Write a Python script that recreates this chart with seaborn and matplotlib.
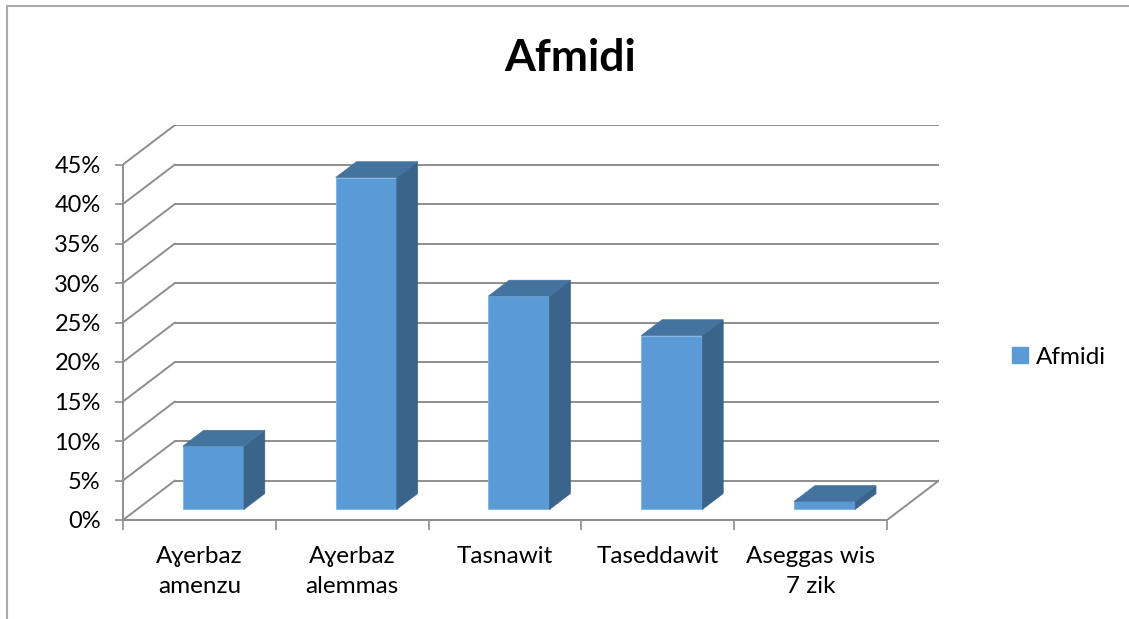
import numpy as np
import matplotlib
matplotlib.use("Agg")
import matplotlib.pyplot as plt
from matplotlib.patches import Polygon, Patch
from matplotlib.lines import Line2D
import seaborn as sns

# ======================================================
# Data
# ======================================================

categories = ["Aɣerbaz\namenzu", "Aɣerbaz\nalemmas", "Tasnawit", "Taseddawit", "Aseggas wis\n7 zik"]
values = [8, 42, 27, 22, 1]
yticks = [0, 5, 10, 15, 20, 25, 30, 35, 40, 45]
series_name = "Afmidi"

# ======================================================
# Style
# ======================================================

sns.set_style("white")
plt.rcParams["font.family"] = ["Lato", "DejaVu Sans"]
plt.rcParams["text.color"] = "black"

FRONT = "#5b9bd5"
TOP = "#44739f"
SIDE = "#3a6489"
GRID = "#8e8e8e"

# depth of the 3d box, in data units
DX = 0.34
DY = 5.0
# bar depth positions (fraction of the box depth)
D0 = 0.27
D1 = 0.67

fig = plt.figure(figsize=(11.29, 6.19), dpi=100)
ax = fig.add_axes([123 / 1129, 99 / 619, 816 / 1129, 395 / 619])

# ======================================================
# Walls and floor
# ======================================================

x_lo, x_hi = -0.5, len(categories) - 0.5

for v in yticks:
    # back wall
    ax.plot([x_lo + DX, x_hi + DX], [v + DY, v + DY], color=GRID, lw=1.4, zorder=1)
    # side wall
    ax.plot([x_lo, x_lo + DX], [v, v + DY], color=GRID, lw=1.4, zorder=1)

# floor front edge and right edge
ax.plot([x_lo, x_hi], [0, 0], color=GRID, lw=1.4, zorder=1, clip_on=False)
ax.plot([x_hi, x_hi + DX], [0, DY], color=GRID, lw=1.4, zorder=1)

# ======================================================
# Bars
# ======================================================

sns.barplot(
    x=categories,
    y=values,
    color=FRONT,
    saturation=1,
    width=0.4,
    errorbar=None,
    ax=ax,
    zorder=3
)

ddx = (D1 - D0) * DX
ddy = (D1 - D0) * DY

for p in ax.patches:
    fx = p.get_x() + D0 * DX
    fy = D0 * DY
    w = p.get_width()
    h = p.get_height()
    p.set_x(fx)
    p.set_y(fy)
    p.set_edgecolor("#7fb2e0")
    p.set_linewidth(0.6)
    top = Polygon(
        [(fx, fy + h), (fx + w, fy + h), (fx + w + ddx, fy + h + ddy), (fx + ddx, fy + h + ddy)],
        closed=True, facecolor=TOP, edgecolor=TOP, lw=0.5, zorder=3
    )
    side = Polygon(
        [(fx + w, fy), (fx + w + ddx, fy + ddy), (fx + w + ddx, fy + h + ddy), (fx + w, fy + h)],
        closed=True, facecolor=SIDE, edgecolor=SIDE, lw=0.5, zorder=3
    )
    ax.add_patch(side)
    ax.add_patch(top)

# ======================================================
# Axes
# ======================================================

ax.set_xlim(x_lo, x_hi + DX)
ax.set_ylim(0, 50)

for s in ["top", "right", "bottom"]:
    ax.spines[s].set_visible(False)
ax.spines["left"].set_color(GRID)
ax.spines["left"].set_linewidth(1.4)
ax.spines["left"].set_bounds(0, 45)

ax.set_yticks(yticks)
ax.set_yticklabels([f"{v}%" for v in yticks], fontsize=17, color="black")
ax.tick_params(axis="y", length=6, width=1.2, color=GRID, pad=10, left=True)

ax.set_xticks(range(len(categories)))
ax.set_xticklabels(categories, fontsize=17.5, color="black", linespacing=1.5)
ax.set_xticks(np.arange(x_lo, x_hi + 0.01, 1.0), minor=True)
ax.tick_params(axis="x", which="major", length=0, pad=19)
ax.tick_params(axis="x", which="minor", length=7, width=1.2, color=GRID, bottom=True)

ax.set_xlabel("")
ax.set_ylabel("")

# ======================================================
# Title, legend, border
# ======================================================

fig.text(570 / 1129, 1 - 71 / 619, "Afmidi", fontsize=32, fontweight="bold",
         ha="center", va="baseline", color="black")

fig.legend(
    handles=[Patch(facecolor=FRONT, edgecolor=FRONT)],
    labels=[series_name],
    loc="center left",
    bbox_to_anchor=(990 / 1129, 1 - 357 / 619),
    frameon=False,
    fontsize=17.5,
    labelcolor="black",
    handlelength=0.65,
    handleheight=0.65,
    handletextpad=0.35
)

fig.add_artist(Line2D([7 / 1129, 1], [1 - 6 / 619, 1 - 6 / 619], color="#aaaaaa", lw=1.5))
fig.add_artist(Line2D([7 / 1129, 7 / 1129], [0, 1 - 6 / 619], color="#aaaaaa", lw=1.5))

plt.savefig("out.png", dpi=100)
